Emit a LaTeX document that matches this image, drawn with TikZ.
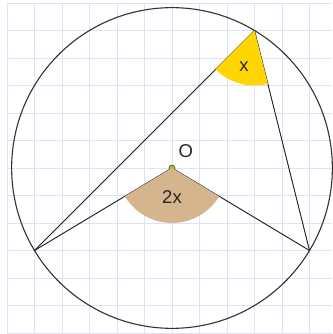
\documentclass[tikz,border=0pt]{standalone}
\usepackage{xcolor}
\usepackage{fontspec}
\setmainfont{Liberation Sans}
\definecolor{gridLavender}{HTML}{E0E0F6}
\definecolor{wedgeTan}{HTML}{D4B58E}
\definecolor{wedgeGold}{HTML}{FFD600}
\definecolor{dotOlive}{HTML}{B3B52C}
\definecolor{dotRim}{HTML}{5C5C12}
\tikzset{
  angleLabel/.style={font=\fontsize{18.5}{20}\selectfont, text=black!85, inner sep=0pt},
  chord/.style={black!90, line width=0.9pt}
}

\begin{document}
\begin{tikzpicture}[x=27.5pt, y=27.5pt]
  \useasboundingbox[fill=white] (-6.2545,-6.0364) rectangle (5.8182,6.1091);
  \draw[gridLavender, line width=0.8pt, step=1] (-6,-6.0364) grid (5.8182,6);
  \coordinate (O) at (0,0);
  \coordinate (A) at (3,5);
  \coordinate (B) at (-5,-3);
  \coordinate (C) at (5,-3);
  \draw[black!80, line width=1.1pt] (O) circle[radius=5.831];
  \draw[chord] (B) -- (A) -- (C);
  \draw[chord] (B) -- (O) -- (C);
  \filldraw[fill=dotOlive, draw=dotRim, line width=0.6pt] (O) circle[radius=0.11];
  \fill[wedgeTan] (O) -- ++(210.96:2) arc[start angle=210.96, end angle=329.04, radius=2] -- cycle;
  \fill[wedgeGold] (A) -- ++(225:2) arc[start angle=225, end angle=284.04, radius=2] -- cycle;
  \node[angleLabel] (labO) at (0.5,0.6) {O};
  \node[angleLabel] (labCentral) at (0,-1.05) {2x};
  \node[angleLabel] (labInscribed) at (2.62,3.67) {x};
\end{tikzpicture}
\end{document}
